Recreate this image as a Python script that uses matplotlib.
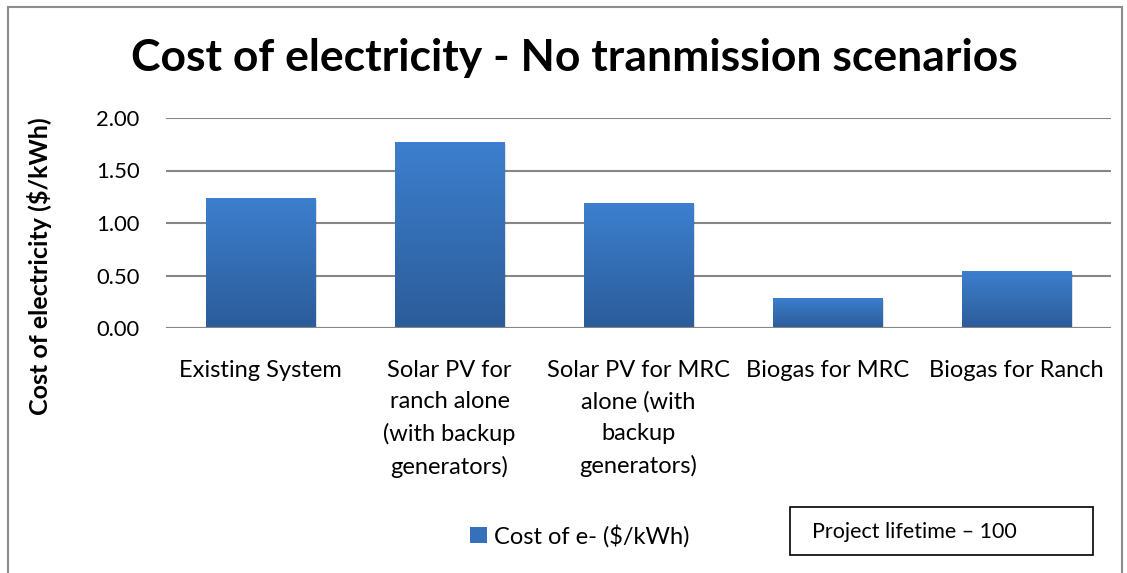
import numpy as np
import matplotlib.pyplot as plt
from matplotlib.patches import Rectangle, Patch
from matplotlib.colors import LinearSegmentedColormap

categories = ["Existing System",
              "Solar PV for\nranch alone\n(with backup\ngenerators)",
              "Solar PV for MRC\nalone (with\nbackup\ngenerators)",
              "Biogas for MRC",
              "Biogas for Ranch"]
cost = [1.24, 1.77, 1.19, 0.29, 0.54]
yticks = [0.0, 0.5, 1.0, 1.5, 2.0]

plt.rcParams['font.family'] = ['Lato', 'DejaVu Sans']

W, H = 1127, 573
fig = plt.figure(figsize=(W / 100, H / 100), dpi=100)

# outer chart frame
fig.patches.append(Rectangle((8 / W, -0.05), 1114 / W, 1 - 7 / H + 0.05,
                             transform=fig.transFigure, fill=False,
                             edgecolor='#8c8c8c', lw=1.5))

ax = fig.add_axes([166 / W, 1 - 328 / H, 945 / W, 210 / H])
x = np.arange(len(categories))
bars = ax.bar(x, cost, width=0.577, color='#3570bb', zorder=3)

# vertical gradient on each bar
grad = np.linspace(0, 1, 256).reshape(-1, 1)
cmap = LinearSegmentedColormap.from_list('g', ['#2c5c99', '#3d7fce'])
for b in bars:
    bx, by = b.get_x(), b.get_y()
    bw, bh = b.get_width(), b.get_height()
    im = ax.imshow(grad, extent=[bx, bx + bw, by, by + bh], origin='lower',
                   cmap=cmap, aspect='auto', zorder=4)
    im.set_clip_path(b)
    # soft shadow
    ax.add_patch(Rectangle((bx + 0.012, -0.02), bw, bh, color='#000000',
                           alpha=0.12, zorder=2, lw=0))

ax.set_xlim(-0.5, len(categories) - 0.5)
ax.set_ylim(0, 2)
ax.yaxis.grid(True, color='#868686', lw=1.5, zorder=1)
ax.set_yticks(yticks)
ax.set_yticklabels([f"{v:.2f}" for v in yticks], fontsize=15.8)
ax.set_xticks(x)
ax.set_xticklabels(categories, fontsize=17, linespacing=1.6, va='top')
ax.tick_params(axis='both', length=0)
ax.tick_params(axis='y', pad=19)
ax.tick_params(axis='x', pad=23)
for s in ax.spines.values():
    s.set_visible(False)
ax.axhline(0, color='#868686', lw=1.5, zorder=5)

fig.text(574 / W, 1 - 58 / H, "Cost of electricity - No tranmission scenarios",
         ha='center', va='center', fontsize=32, fontweight='bold')
fig.text(40 / W, 1 - 266 / H, "Cost of electricity ($/kWh)", rotation=90,
         ha='center', va='center', fontsize=18, fontweight='bold')

leg = fig.legend(handles=[Patch(facecolor='#3570bb', edgecolor='none')],
                 labels=["Cost of e- ($/kWh)"], loc='center',
                 bbox_to_anchor=(580 / W, 1 - 536 / H), frameon=False,
                 fontsize=17, handlelength=0.7, handleheight=0.7,
                 handletextpad=0.3)

fig.patches.append(Rectangle((790 / W, 1 - 555 / H), 303 / W, 48 / H,
                             transform=fig.transFigure, fill=False,
                             edgecolor='black', lw=1.2))
fig.text(812 / W, 1 - 532 / H, "Project lifetime \u2013 100", ha='left',
         va='center', fontsize=15.5)

fig.savefig("out.png", dpi=100)
